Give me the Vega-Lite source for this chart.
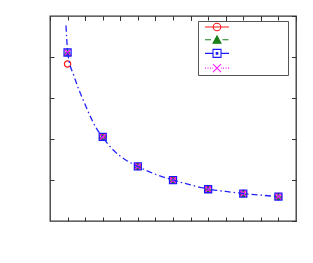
{
  "$schema": "https://vega.github.io/schema/vega-lite/v6.json",
  "autosize": {"type": "none"},
  "padding": {"left": 50, "top": 16, "right": 17, "bottom": 42},
  "width": 246,
  "height": 205,
  "background": "white",
  "config": {
    "view": {"stroke": "#333333", "strokeWidth": 1.3},
    "axis": {"labels": false, "domain": false, "grid": false, "title": null, "ticks": true, "tickSize": -4, "tickColor": "#333333", "tickWidth": 1}
  },
  "datasets": {
    "pts": [
      {"series": "s1", "x": 1, "y": 3.83},
      {"series": "s1", "x": 3, "y": 2.05},
      {"series": "s1", "x": 5, "y": 1.33},
      {"series": "s1", "x": 7, "y": 0.995},
      {"series": "s1", "x": 9, "y": 0.775},
      {"series": "s1", "x": 11, "y": 0.67},
      {"series": "s1", "x": 13, "y": 0.595},
      {"series": "s2", "x": 1, "y": 4.11},
      {"series": "s2", "x": 3, "y": 2.05},
      {"series": "s2", "x": 5, "y": 1.33},
      {"series": "s2", "x": 7, "y": 0.995},
      {"series": "s2", "x": 9, "y": 0.775},
      {"series": "s2", "x": 11, "y": 0.67},
      {"series": "s2", "x": 13, "y": 0.595},
      {"series": "s3", "x": 1, "y": 4.11},
      {"series": "s3", "x": 3, "y": 2.05},
      {"series": "s3", "x": 5, "y": 1.33},
      {"series": "s3", "x": 7, "y": 0.995},
      {"series": "s3", "x": 9, "y": 0.775},
      {"series": "s3", "x": 11, "y": 0.67},
      {"series": "s3", "x": 13, "y": 0.595},
      {"series": "s4", "x": 1, "y": 4.11},
      {"series": "s4", "x": 3, "y": 2.05},
      {"series": "s4", "x": 5, "y": 1.33},
      {"series": "s4", "x": 7, "y": 0.995},
      {"series": "s4", "x": 9, "y": 0.775},
      {"series": "s4", "x": 11, "y": 0.67},
      {"series": "s4", "x": 13, "y": 0.595}
    ],
    "curve": [
      {"x": 0.91, "y": 4.77},
      {"x": 0.95, "y": 4.45},
      {"x": 1.0, "y": 4.15},
      {"x": 1.1, "y": 3.88},
      {"x": 1.33, "y": 3.58},
      {"x": 1.61, "y": 3.24},
      {"x": 2.0, "y": 2.84},
      {"x": 2.24, "y": 2.6},
      {"x": 2.6, "y": 2.29},
      {"x": 3.0, "y": 2.04},
      {"x": 3.6, "y": 1.73},
      {"x": 4.27, "y": 1.5},
      {"x": 5.0, "y": 1.33},
      {"x": 6.0, "y": 1.14},
      {"x": 7.0, "y": 1.0},
      {"x": 8.0, "y": 0.88},
      {"x": 9.0, "y": 0.78},
      {"x": 10.0, "y": 0.72},
      {"x": 11.0, "y": 0.67},
      {"x": 12.0, "y": 0.63},
      {"x": 13.0, "y": 0.595}
    ]
  },
  "encoding": {
    "x": {"field": "x", "type": "quantitative", "scale": {"domain": [0, 14], "nice": false, "zero": false}},
    "y": {"field": "y", "type": "quantitative", "scale": {"domain": [0, 5], "nice": false, "zero": false}}
  },
  "layer": [
    {
      "data": {"name": "pts"},
      "transform": [{"filter": "datum.series === 's1'"}],
      "mark": {"type": "point", "shape": "circle", "filled": false, "size": 40, "strokeWidth": 1.2, "opacity": 1},
      "encoding": {
        "x": {"field": "x", "type": "quantitative", "axis": {"orient": "bottom", "values": [1,2,3,4,5,6,7,8,9,10,11,12,13]}},
        "y": {"field": "y", "type": "quantitative", "axis": {"orient": "left", "values": [1,2,3,4]}},
        "color": {"field": "series", "type": "nominal",
          "scale": {"domain": ["s1","s2","s3","s4"], "range": ["#ff1a1a", "#1a7f1a", "#1a1aff", "#ff1aff"]}}
      }
    },
    {
      "data": {"name": "pts"},
      "transform": [{"filter": "datum.series === 's2'"}],
      "mark": {"type": "point", "shape": "triangle-up", "filled": false, "fill": "#1a7f1a", "strokeWidth": 1, "size": 45, "opacity": 1},
      "encoding": {
        "color": {"field": "series", "type": "nominal"}
      }
    },
    {
      "data": {"name": "pts"},
      "transform": [{"filter": "datum.series === 's3'"}],
      "mark": {"type": "point", "shape": "M-1,-1H1V1H-1ZM-0.15,-0.15H0.15V0.15H-0.15Z", "filled": false, "size": 49, "strokeWidth": 1.3, "opacity": 1},
      "encoding": {
        "color": {"field": "series", "type": "nominal"}
      }
    },
    {
      "data": {"name": "pts"},
      "transform": [{"filter": "datum.series === 's4'"}],
      "mark": {"type": "point", "shape": "M-1,-1L1,1M1,-1L-1,1", "filled": false, "size": 30, "strokeWidth": 1.3, "opacity": 1},
      "encoding": {
        "color": {"field": "series", "type": "nominal"}
      }
    },
    {
      "data": {"name": "pts"},
      "transform": [{"filter": "datum.x === 13"}],
      "mark": {"type": "point", "filled": false, "opacity": 0},
      "encoding": {
        "color": {"field": "series", "type": "nominal",
          "legend": {
            "orient": "none", "legendX": 148, "legendY": 5,
            "title": null, "labelExpr": "''", "labelOffset": 65, "labelFontSize": 10,
            "padding": 0, "rowPadding": 0.7, "symbolOffset": 13,
            "symbolSize": 100, "symbolStrokeWidth": 1.1, "symbolOpacity": 1,
            "strokeColor": "#555555", "fillColor": "white", "cornerRadius": 0
          }},
        "shape": {"field": "series", "type": "nominal",
          "scale": {"domain": ["s1","s2","s3","s4"], "range": [
            "M-2.4,0H2.4M-0.75,0A0.75,0.75 0 1,0 0.75,0A0.75,0.75 0 1,0 -0.75,0",
            "M-2.4,0H-1.2M1.1,0H2.3M-0.8,0.7L0,-0.75L0.8,0.7Z",
            "M-2.4,0H-0.8M0.8,0H2.4M-0.8,-0.8H0.8V0.8H-0.8ZM-0.15,-0.15H0.15V0.15H-0.15Z",
            "M-2.4,0H-2.2M-1.9,0H-1.7M-1.4,0H-1.2M-0.95,0H-0.8M0.8,0H0.95M1.2,0H1.4M1.7,0H1.9M2.2,0H2.4M-0.8,-0.8L0.8,0.8M0.8,-0.8L-0.8,0.8"]}},
        "fill": {"field": "series", "type": "nominal",
          "scale": {"domain": ["s1","s2","s3","s4"], "range": ["transparent", "#1a7f1a", "transparent", "transparent"]}}
      }
    },
    {
      "data": {"name": "curve"},
      "mark": {"type": "line", "color": "#2222ff", "strokeWidth": 1.3, "strokeDash": [6, 3, 1.5, 3], "interpolate": "monotone"},
      "encoding": {
        "x": {"field": "x", "type": "quantitative", "axis": {"orient": "top", "values": [1,2,3,4,5,6,7,8,9,10,11,12,13]}},
        "y": {"field": "y", "type": "quantitative", "axis": {"orient": "right", "values": [1,2,3,4]}}
      }
    }
  ],
  "resolve": {"axis": {"x": "independent", "y": "independent"}}
}
